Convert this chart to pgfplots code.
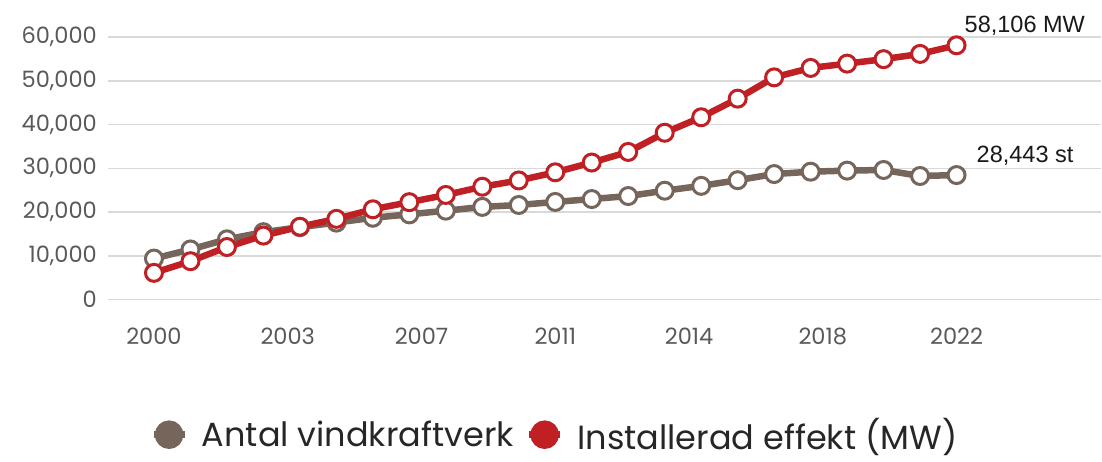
\documentclass[border=0pt]{standalone}
\usepackage{fontspec}
\setmainfont{Poppins}
\newfontfamily\arialf{Liberation Sans}
\usepackage{pgfplots}
\pgfplotsset{compat=1.18}
\definecolor{brownc}{RGB}{118,101,91}
\definecolor{redc}{RGB}{192,31,36}
\definecolor{ticktxt}{RGB}{89,89,89}
\definecolor{gridc}{RGB}{217,217,217}
\begin{document}
\begin{tikzpicture}
\path[use as bounding box] (-108pt,-161.5pt) rectangle (994pt,299.5pt);
\begin{axis}[
  at={(0pt,0pt)}, anchor=south west,
  scale only axis, width=993pt, height=262.5pt,
  xmin=-1.26, xmax=25.96, ymin=0, ymax=60000,
  clip=false,
  axis line style={draw=none}, major tick style={draw=none},
  ymajorgrids, grid style={gridc, line width=1.5pt},
  ytick={0,10000,20000,30000,40000,50000,60000},
  xtick={0,3.6667,7.3333,11,14.6667,18.3333,22},
  xticklabels={2000,2003,2007,2011,2014,2018,2022},
  scaled y ticks=false,
  /pgf/number format/1000 sep={,},
  /pgf/number format/assume math mode=true,
  tick label style={font=\fontsize{22.5}{26}\selectfont, text=ticktxt, inner sep=0pt},
  yticklabel style={anchor=east, xshift=-11pt},
  xticklabel style={anchor=base, yshift=-45pt},
  legend style={at={(0.45,-0.515)}, anchor=center, draw=none, fill=none,
    font=\fontsize{33.5}{38}\selectfont, text=black!85,
    nodes={inner ysep=0pt},
    /tikz/every odd column/.append style={column sep=12pt},
    /tikz/every even column/.append style={column sep=10pt}},
  legend columns=2,
  legend cell align=left,
]
\addplot[brownc, line width=6.5pt, mark=*, mark size=8.5pt,
  mark options={fill=white, draw=brownc, line width=3pt},
  legend image code/.code={\draw[brownc, line width=6.5pt] (0pt,0pt) -- (31pt,0pt); \fill[brownc] (15.5pt,0pt) circle (11pt);}]
coordinates {
(0,9359) (1,11438) (2,13759) (3,15387) (4,16543) (5,17574) (6,18685) (7,19460)
(8,20301) (9,21164) (10,21607) (11,22297) (12,22962) (13,23645) (14,24867)
(15,25980) (16,27270) (17,28675) (18,29213) (19,29456) (20,29608) (21,28230) (22,28443)
};
\addlegendentry{Antal vindkraftverk}
\addplot[redc, line width=6.5pt, mark=*, mark size=8.5pt,
  mark options={fill=white, draw=redc, line width=3pt},
  legend image code/.code={\draw[redc, line width=6.5pt] (0pt,0pt) -- (31pt,0pt); \fill[redc] (15.5pt,0pt) circle (11pt);}]
coordinates {
(0,6095) (1,8754) (2,11994) (3,14609) (4,16629) (5,18428) (6,20622) (7,22247)
(8,23897) (9,25777) (10,27214) (11,29071) (12,31308) (13,33730) (14,38116)
(15,41651) (16,45911) (17,50777) (18,52931) (19,53912) (20,54938) (21,56130) (22,58106)
};
\addlegendentry{Installerad effekt (MW)}
\node[anchor=base west, inner sep=0pt, font=\arialf\fontsize{23.5}{27}\selectfont, text=black!90, xshift=8pt, yshift=13pt] at (axis cs:22,58106) {58,106 MW};
\node[anchor=base west, inner sep=0pt, font=\arialf\fontsize{23.5}{27}\selectfont, text=black!90, xshift=20pt, yshift=13pt] at (axis cs:22,28443) {28,443 st};
\end{axis}
\end{tikzpicture}
\end{document}
